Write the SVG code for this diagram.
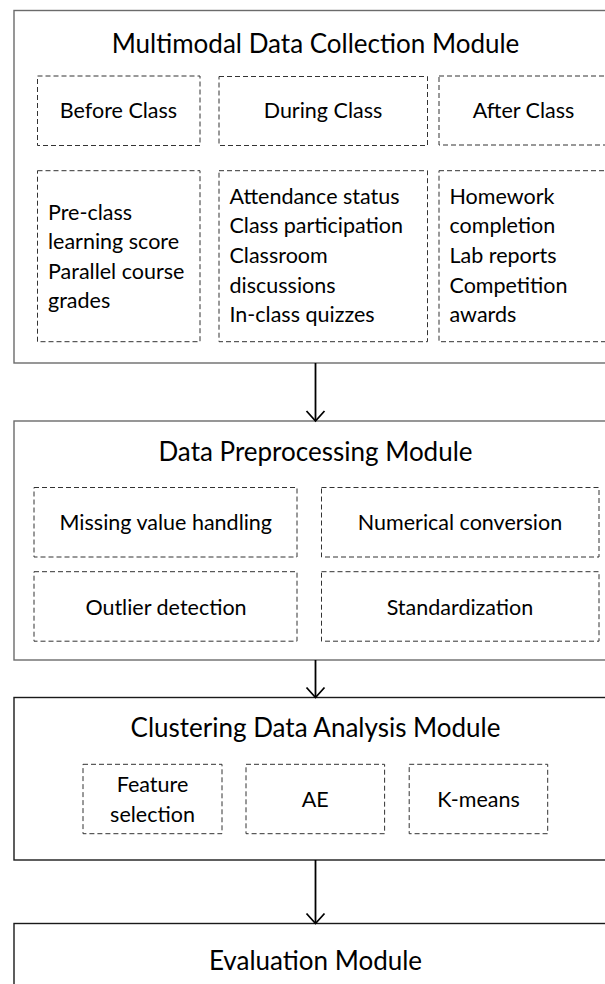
<svg xmlns="http://www.w3.org/2000/svg" width="605" height="984" viewBox="0 0 605 984">
<style>
  .module { fill: #ffffff; stroke-width: 1.4; }
  .gray { stroke: #6b6b6b; }
  .dark { stroke: #1a1a1a; }
  .sub { fill: none; stroke: #333333; stroke-width: 1; stroke-dasharray: 5 3; }
  .title { font-family: Lato, "Liberation Sans", sans-serif; font-size: 26px; fill: #000000; text-anchor: middle; }
  .lbl { font-family: Lato, "Liberation Sans", sans-serif; font-size: 21.5px; fill: #000000; }
  .mid { text-anchor: middle; }
  .conn { fill: none; stroke: #000000; stroke-width: 1.8; }
</style>
<rect width="605" height="984" fill="#ffffff"/>

<g id="collection">
  <rect class="module gray" x="14" y="10.5" width="604" height="352.5"/>
  <text class="title" x="315.5" y="52.5">Multimodal Data Collection Module</text>
  <g id="before-class">
    <rect class="sub" x="37.5" y="76" width="162.5" height="69.5"/>
    <text class="lbl mid" x="118.5" y="118">Before Class</text>
  </g>
  <g id="during-class">
    <rect class="sub" x="219" y="76.5" width="208.5" height="69"/>
    <text class="lbl mid" x="323" y="118">During Class</text>
  </g>
  <g id="after-class">
    <rect class="sub" x="439" y="76" width="170" height="69"/>
    <text class="lbl mid" x="523.5" y="118">After Class</text>
  </g>
  <g id="before-items">
    <rect class="sub" x="37.5" y="170.7" width="162.5" height="171"/>
    <text class="lbl" x="48" y="219.5">Pre-class</text>
    <text class="lbl" x="48" y="249">learning score</text>
    <text class="lbl" x="48" y="278.5">Parallel course</text>
    <text class="lbl" x="48" y="308">grades</text>
  </g>
  <g id="during-items">
    <rect class="sub" x="219" y="170.7" width="208.5" height="171"/>
    <text class="lbl" x="229.5" y="203.5">Attendance status</text>
    <text class="lbl" x="229.5" y="233.2">Class participation</text>
    <text class="lbl" x="229.5" y="262.9">Classroom</text>
    <text class="lbl" x="229.5" y="292.6">discussions</text>
    <text class="lbl" x="229.5" y="322.3">In-class quizzes</text>
  </g>
  <g id="after-items">
    <rect class="sub" x="439" y="170.7" width="170" height="171"/>
    <text class="lbl" x="449.5" y="203.5">Homework</text>
    <text class="lbl" x="449.5" y="233.2">completion</text>
    <text class="lbl" x="449.5" y="262.9">Lab reports</text>
    <text class="lbl" x="449.5" y="292.6">Competition</text>
    <text class="lbl" x="449.5" y="322.3">awards</text>
  </g>
</g>

<g id="preprocessing">
  <rect class="module gray" x="14" y="421" width="604" height="239"/>
  <text class="title" x="315.5" y="460.5">Data Preprocessing Module</text>
  <g id="missing">
    <rect class="sub" x="34" y="487.5" width="263" height="69.5"/>
    <text class="lbl mid" x="165.8" y="530">Missing value handling</text>
  </g>
  <g id="numerical">
    <rect class="sub" x="321.5" y="487.5" width="277.5" height="69.5"/>
    <text class="lbl mid" x="460" y="530">Numerical conversion</text>
  </g>
  <g id="outlier">
    <rect class="sub" x="34" y="571.7" width="263" height="69.5"/>
    <text class="lbl mid" x="166" y="614.5">Outlier detection</text>
  </g>
  <g id="standardization">
    <rect class="sub" x="321.5" y="571.7" width="277.5" height="69.5"/>
    <text class="lbl mid" x="460" y="614.5">Standardization</text>
  </g>
</g>

<g id="clustering">
  <rect class="module dark" x="14" y="697.5" width="604" height="162.5"/>
  <text class="title" x="315.5" y="736.5">Clustering Data Analysis Module</text>
  <g id="feature-selection">
    <rect class="sub" x="83" y="764.3" width="139" height="69.4"/>
    <text class="lbl mid" x="152.5" y="792.3">Feature</text>
    <text class="lbl mid" x="152.5" y="821.7">selection</text>
  </g>
  <g id="ae">
    <rect class="sub" x="246" y="764.3" width="138.6" height="69.4"/>
    <text class="lbl mid" x="315.3" y="806.7">AE</text>
  </g>
  <g id="kmeans">
    <rect class="sub" x="409.2" y="764.3" width="138.5" height="69.4"/>
    <text class="lbl mid" x="478.5" y="806.7">K-means</text>
  </g>
</g>

<g id="evaluation">
  <rect class="module dark" x="14" y="923.5" width="604" height="80"/>
  <text class="title" x="315.5" y="970">Evaluation Module</text>
</g>

<g id="connectors">
  <line class="conn" x1="315.5" y1="363" x2="315.5" y2="420.5"/>
  <path class="conn" d="M306.5,411 L315.5,421 L324.5,411"/>
  <line class="conn" x1="315.5" y1="660" x2="315.5" y2="697"/>
  <path class="conn" d="M306.5,687.5 L315.5,697.5 L324.5,687.5"/>
  <line class="conn" x1="315.5" y1="860" x2="315.5" y2="923"/>
  <path class="conn" d="M306.5,913.5 L315.5,923.5 L324.5,913.5"/>
</g>
</svg>
